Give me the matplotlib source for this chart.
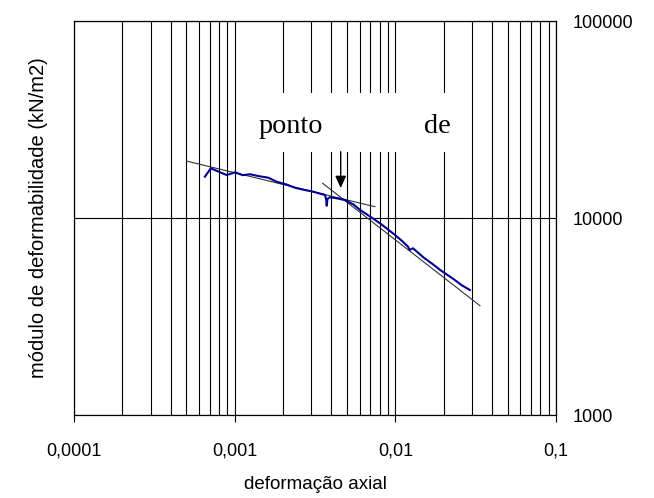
import matplotlib
matplotlib.use("Agg")
import matplotlib.pyplot as plt
from matplotlib.ticker import FixedLocator, NullLocator, LogLocator, NullFormatter
from matplotlib.patches import Rectangle

# curve data (strain, modulus kN/m2)
strain = [0.000653, 0.00071, 0.000892, 0.001005, 0.00112, 0.001245, 0.00142, 0.001618,
          0.001825, 0.0021, 0.00237, 0.0027, 0.00308, 0.0034, 0.00365, 0.00372, 0.00374,
          0.00378, 0.00392, 0.0043, 0.00486, 0.0055, 0.00603, 0.0070, 0.00802, 0.0090,
          0.00995, 0.0110, 0.0120, 0.01226, 0.01288, 0.0150, 0.0170, 0.0190, 0.0230,
          0.0260, 0.0291]
modulus = [16210, 17870, 16520, 17060, 16500, 16670, 16300, 16020,
           15280, 14800, 14250, 13900, 13600, 13300, 13090, 12300, 11540,
           12500, 12740, 12600, 12330, 11700, 10990, 10150, 9400, 8750,
           8200, 7650, 7150, 6880, 7020, 6300, 5850, 5450, 4900,
           4550, 4310]

# tangent lines
tan1_x = [0.000502, 0.00746]
tan1_y = [19450, 11410]
tan2_x = [0.00353, 0.0336]
tan2_y = [15000, 3590]

# arrow
arrow_x = 0.00457
arrow_y_start = 21700
arrow_y_tip = 14190

xticks = [0.0001, 0.001, 0.01, 0.1]
xticklabels = ["0,0001", "0,001", "0,01", "0,1"]
yticks = [1000, 10000, 100000]
yticklabels = ["1000", "10000", "100000"]

plt.rcParams['font.family'] = ['Liberation Sans', 'DejaVu Sans']

fig = plt.figure(figsize=(6.54, 4.98), dpi=100)
ax = fig.add_axes([74/654, 83/498, 482/654, 394/498])

ax.set_xscale('log')
ax.set_yscale('log')
ax.set_xlim(0.0001, 0.1)
ax.set_ylim(1000, 100000)

ax.xaxis.set_major_locator(FixedLocator(xticks))
ax.set_xticklabels(xticklabels)
ax.xaxis.set_minor_locator(LogLocator(base=10, subs=[2, 3, 4, 5, 6, 7, 8, 9]))
ax.xaxis.set_minor_formatter(NullFormatter())
ax.yaxis.set_major_locator(FixedLocator(yticks))
ax.set_yticklabels(yticklabels)
ax.yaxis.set_minor_locator(NullLocator())
ax.yaxis.tick_right()

ax.tick_params(axis='x', which='major', direction='out', length=5, width=0.8, pad=14.5, labelsize=13)
ax.tick_params(axis='x', which='minor', length=0)
ax.tick_params(axis='y', which='both', length=0, pad=12, labelsize=13)

ax.set_axisbelow(True)
ax.grid(True, axis='x', which='both', color='black', linewidth=0.8)
ax.grid(True, axis='y', which='major', color='black', linewidth=0.8)
for s in ax.spines.values():
    s.set_linewidth(0.9)

# white text box
x0 = (240 - 74) / 482
x1 = (465 - 74) / 482
y0 = (415 - 152) / 394
y1 = (415 - 93) / 394
box = Rectangle((x0, y0), x1 - x0, y1 - y0, transform=ax.transAxes,
                facecolor='white', edgecolor='none', zorder=1)
ax.add_patch(box)
ax.text((259 - 74) / 482, (415 - 133) / 394, "ponto", transform=ax.transAxes,
        family=['Liberation Serif', 'DejaVu Serif'], fontsize=20.3, ha='left', va='baseline', zorder=3)
ax.text((424 - 74) / 482, (415 - 133) / 394, "de", transform=ax.transAxes,
        family=['Liberation Serif', 'DejaVu Serif'], fontsize=20.3, ha='left', va='baseline', zorder=3)

ax.plot(tan1_x, tan1_y, color='#333333', linewidth=0.8, zorder=2)
ax.plot(tan2_x, tan2_y, color='#333333', linewidth=0.8, zorder=2)
ax.plot(strain, modulus, color='#000099', linewidth=1.5, zorder=3)

ax.annotate("", xy=(arrow_x, arrow_y_tip), xytext=(arrow_x, arrow_y_start),
            arrowprops=dict(arrowstyle='-|>,head_length=0.6,head_width=0.27', mutation_scale=12,
                            color='black', lw=1, shrinkA=0, shrinkB=0), zorder=4)

ax.set_xlabel("deformação axial", fontsize=13.5, labelpad=12)
ax.set_ylabel("módulo de deformabilidade (kN/m2)", fontsize=14.5, labelpad=19)

fig.savefig("out.png", dpi=100)
